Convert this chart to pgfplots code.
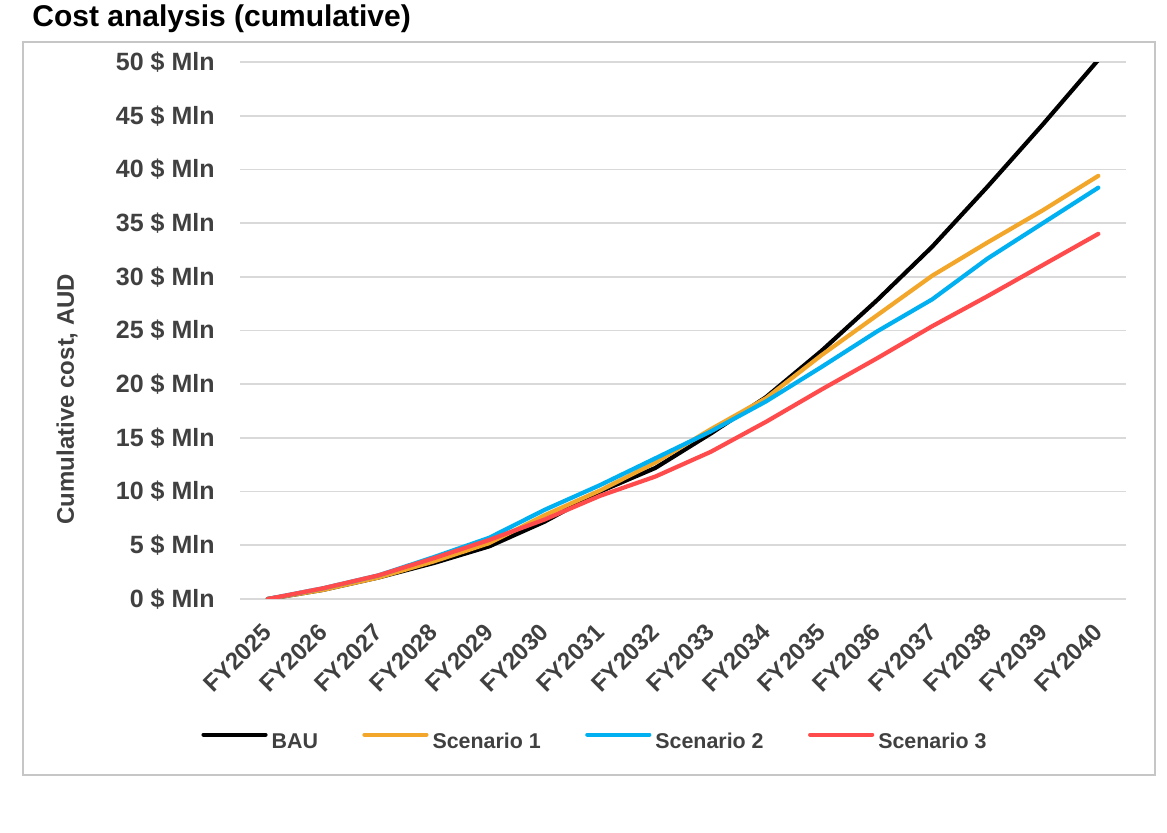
\documentclass[border=0pt]{standalone}
\usepackage{fontspec}
\setmainfont{Liberation Sans}
\usepackage{pgfplots}
\pgfplotsset{compat=1.18}
\definecolor{gridgray}{HTML}{D9D9D9}
\definecolor{framegray}{HTML}{C6C6C6}
\definecolor{tickgray}{HTML}{404040}
\definecolor{scA}{HTML}{F2A62A}
\definecolor{scB}{HTML}{00B0F0}
\definecolor{scC}{HTML}{FF4B4B}

\pgfplotstableread{
x BAU S1 S2 S3
0 0 0 0 0
1 0.85 0.85 1.0 1.0
2 2.0 2.0 2.2 2.2
3 3.35 3.5 3.9 3.8
4 4.9 5.2 5.7 5.5
5 7.2 7.8 8.3 7.4
6 10.0 10.1 10.6 9.6
7 12.2 12.7 13.1 11.4
8 15.4 15.8 15.6 13.7
9 18.8 18.7 18.4 16.5
10 23.1 22.7 21.6 19.5
11 27.8 26.4 24.9 22.4
12 32.8 30.1 27.9 25.4
13 38.4 33.2 31.7 28.2
14 44.2 36.2 35.0 31.1
15 50.2 39.4 38.3 34.0
}\datatable

\begin{document}
\begin{tikzpicture}
\path[use as bounding box] (0,0) rectangle (583.5bp,416.5bp);
\draw[framegray, line width=0.9bp] (11.5bp,29bp) rectangle (577.5bp,395.5bp);
\node[anchor=base west, inner sep=0pt, font=\bfseries\fontsize{15bp}{18bp}\selectfont] at (16bp,403bp) {Cost analysis (cumulative)};
\node[rotate=90, inner sep=0pt, text=tickgray, font=\bfseries\fontsize{12bp}{14bp}\selectfont] at (33.5bp,217bp) {Cumulative cost, AUD};
\begin{axis}[
  at={(120bp,117bp)}, anchor=south west,
  scale only axis, width=443bp, height=268.5bp,
  xmin=-0.5, xmax=15.5, ymin=0, ymax=50,
  axis line style={draw=none},
  major tick length=0pt,
  ymajorgrids, grid style={color=gridgray, line width=0.8bp},
  ytick={0,5,...,50},
  yticklabels={0 \$ Mln,5 \$ Mln,10 \$ Mln,15 \$ Mln,20 \$ Mln,25 \$ Mln,30 \$ Mln,35 \$ Mln,40 \$ Mln,45 \$ Mln,50 \$ Mln},
  xtick={0,...,15},
  xticklabels={FY2025,FY2026,FY2027,FY2028,FY2029,FY2030,FY2031,FY2032,FY2033,FY2034,FY2035,FY2036,FY2037,FY2038,FY2039,FY2040},
  yticklabel style={font=\bfseries\fontsize{12.5bp}{15bp}\selectfont, text=tickgray, anchor=east, inner sep=0pt},
  yticklabel shift=12.5bp,
  xticklabel style={font=\bfseries\fontsize{12bp}{14bp}\selectfont, text=tickgray, rotate=45, anchor=east, inner sep=0pt},
  xticklabel shift=14.5bp,
  legend columns=4,
  legend style={at={(axis description cs:-0.0440,-0.2663)}, anchor=west, draw=none, fill=none, inner sep=0pt,
    font=\bfseries\fontsize{10.7bp}{12bp}\selectfont, text=tickgray,
    /tikz/every even column/.append style={column sep=22.2bp},
    /tikz/every odd column/.append style={column sep=2bp},
    nodes={inner sep=0pt}},
  legend image code/.code={\draw[#1, line cap=round] (0.5bp,3.8bp) -- (31.5bp,3.8bp);},
  every axis plot/.append style={line width=2.1bp, line join=round, line cap=round},
]
\addplot[black] table[x=x, y=BAU] {\datatable};
\addlegendentry{BAU}
\addplot[scA] table[x=x, y=S1] {\datatable};
\addlegendentry{Scenario 1}
\addplot[scB] table[x=x, y=S2] {\datatable};
\addlegendentry{Scenario 2}
\addplot[scC] table[x=x, y=S3] {\datatable};
\addlegendentry{Scenario 3}
\end{axis}
\end{tikzpicture}
\end{document}
